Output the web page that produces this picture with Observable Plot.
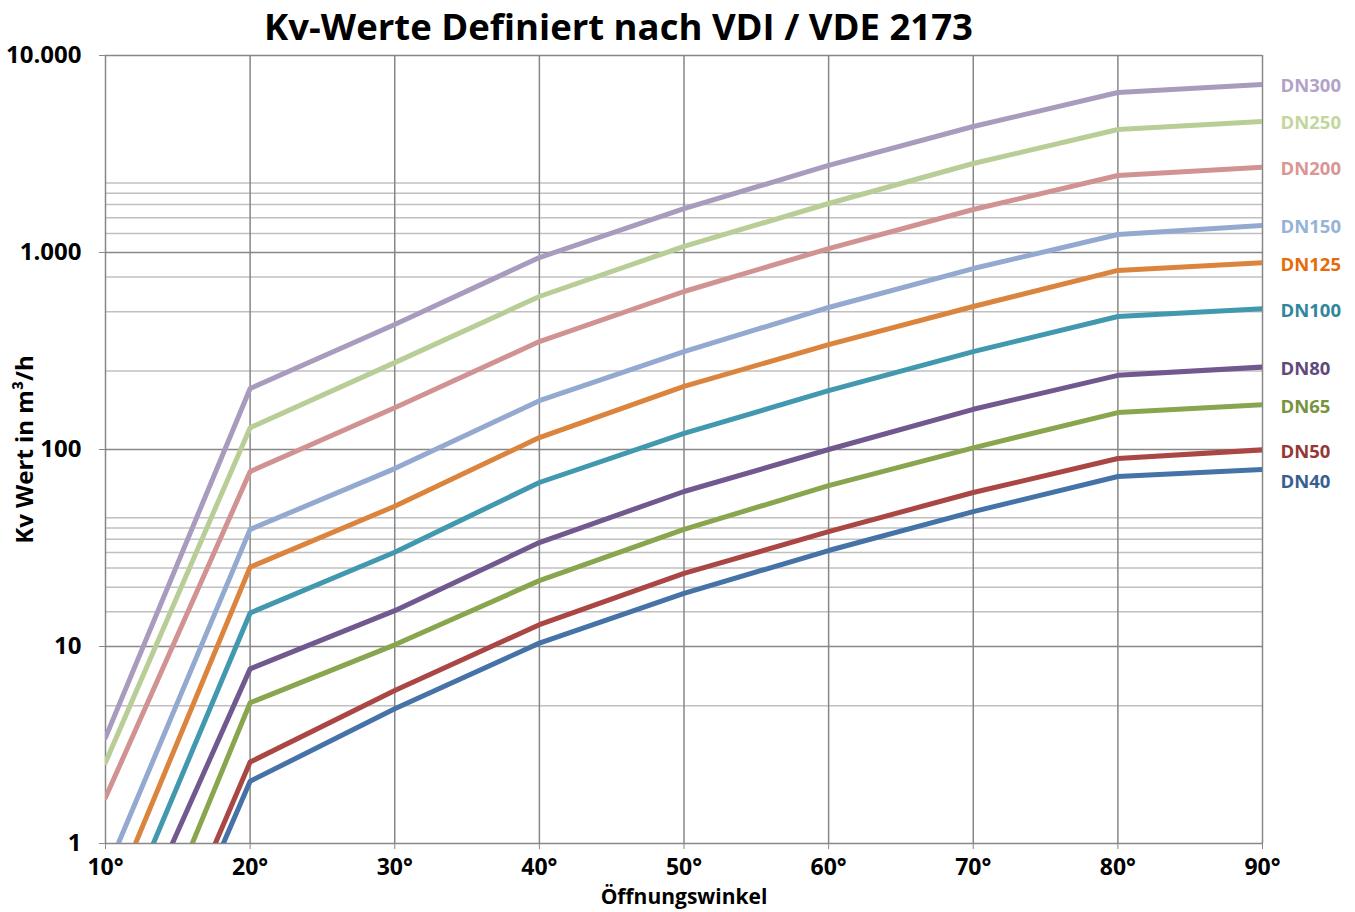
<!DOCTYPE html>
<html>
<head>
<meta charset="utf-8">
<script src="https://cdn.jsdelivr.net/npm/d3@7"></script>
<script src="https://cdn.jsdelivr.net/npm/@observablehq/plot@0.6"></script>
<style>
  html, body { margin: 0; padding: 0; background: #fff; }
  #wrap { position: relative; width: 1355px; height: 912px; overflow: hidden; }
  #title { position: absolute; left: 0; top: 0; width: 1237px; height: 45px; line-height: 52px;
           text-align: center; font-family: "Open Sans", sans-serif; font-weight: bold; font-size: 36.5px; color: #000; }
  #chart { position: absolute; left: 0; top: 45px; }
</style>
</head>
<body>
<div id="wrap">
  <div id="title">Kv-Werte Definiert nach VDI / VDE 2173</div>
  <div id="chart"></div>
</div>
<script>
// ---- Data ----
const angles = [10, 20, 30, 40, 50, 60, 70, 80, 90];
const seriesNames = ["DN40", "DN50", "DN65", "DN80", "DN100", "DN125", "DN150", "DN200", "DN250", "DN300"];
const dn40  = [0.041, 2.07, 4.83, 10.4, 18.6, 30.7, 48.4, 72.9, 79.1];
const dn50  = [0.05, 2.59, 5.98, 12.9, 23.5, 38.3, 60.5, 90, 99.6];
const dn65  = [0.085, 5.18, 10.2, 21.6, 39.3, 65.6, 102, 154, 169];
const dn80  = [0.173, 7.7, 15.2, 33.7, 61.2, 100, 160, 238, 262];
const dn100 = [0.264, 14.8, 30.1, 68, 120.6, 199, 314, 473, 518];
const dn125 = [0.43, 25.3, 51.5, 115, 209, 341, 532, 811, 887];
const dn150 = [0.70, 39.3, 80, 177, 314, 526, 829, 1234, 1371];
const dn200 = [1.71, 77.3, 163, 353, 634, 1047, 1653, 2460, 2712];
const dn250 = [2.58, 129, 276, 598, 1073, 1773, 2830, 4210, 4620];
const dn300 = [3.45, 204, 431, 943, 1672, 2766, 4361, 6490, 7128];
const seriesValues = [dn40, dn50, dn65, dn80, dn100, dn125, dn150, dn200, dn250, dn300];
const lineColors  = ["#4572A7", "#AA4643", "#89A54E", "#71588F", "#4198AF", "#DB843D", "#93A9CF", "#D19392", "#B9CD96", "#A99BBD"];
const labelColors = ["#376092", "#953735", "#77933C", "#604A7B", "#31859C", "#E46C0A", "#95B3D7", "#D99694", "#C3D69B", "#B3A2C7"];
const yMajorTicks = [1, 10, 100, 1000, 10000];
const yMinorTicks = [5, 15, 20, 25, 30, 35, 40, 45, 250, 500, 750, 1250, 1500, 1750, 2000, 2250];
const xTicks = [10, 20, 30, 40, 50, 60, 70, 80, 90];
const yTitle = "Kv Wert in m³/h";
const xTitle = "Öffnungswinkel";

// ---- Build ----
const de = d3.formatLocale({decimal: ",", thousands: ".", grouping: [3], currency: ["", " €"]});
const fmtY = de.format(",");
const font = "Open Sans";
const gridDark = "#878787";
const gridLight = "#c0c0c0";

const base = {
  width: 1355,
  height: 867,
  marginTop: 10,
  marginBottom: 69,
  marginLeft: 105,
  marginRight: 93,
  style: {fontFamily: font, background: "#fff", overflow: "visible"},
  x: {type: "linear", domain: [10, 90]},
  y: {type: "log", domain: [1, 10000]}
};

// label positions: keep labels apart using the library's own y scale
const yScale = Plot.plot({...base, marks: [Plot.ruleY([1])]}).scale("y");
const lastIdx = angles.length - 1;
const labelPx = seriesValues.map(v => yScale.apply(v[lastIdx]) + 2);
const minGap = 30;
const labelY = labelPx.slice();
// series are ordered bottom (DN40) to top (DN300); push lower labels downward if too close
for (let i = labelY.length - 2; i >= 0; i--) {
  if (labelY[i] - labelY[i + 1] < minGap) labelY[i] = labelY[i + 1] + minGap;
}

const marks = [
  Plot.ruleY(yMinorTicks, {stroke: gridLight, strokeWidth: 1.5}),
  Plot.ruleY(yMajorTicks, {stroke: gridDark, strokeWidth: 1.5}),
  Plot.ruleX(xTicks, {stroke: gridDark, strokeWidth: 1.5}),
  Plot.axisY({ticks: yMajorTicks, tickFormat: fmtY, tickSize: 6, tickPadding: 18, stroke: gridDark, fill: "#000",
              fontSize: 24, fontWeight: "bold", label: null}),
  Plot.axisX({ticks: xTicks, tickFormat: d => d + "°", tickSize: 6, tickPadding: 9, stroke: gridDark, fill: "#000",
              fontSize: 23, fontWeight: "bold", label: null}),
];

seriesNames.forEach((name, i) => {
  const rows = angles.map((a, j) => ({angle: a, kv: seriesValues[i][j]}));
  marks.push(Plot.line(rows, {x: "angle", y: "kv", stroke: lineColors[i], strokeWidth: 5, clip: true}));
});
seriesNames.forEach((name, i) => {
  const last = {angle: angles[lastIdx], kv: seriesValues[i][lastIdx], name};
  const dy = labelY[i] - yScale.apply(last.kv);
  marks.push(Plot.text([last], {x: "angle", y: "kv", text: "name", dx: 18, dy, textAnchor: "start",
    fill: labelColors[i], fontSize: 18.5, fontWeight: "bold"}));
});
marks.push(Plot.text([yTitle], {frameAnchor: "left", dx: -80, rotate: -90, text: d => d, fontSize: 24,
  fontWeight: "bold", fill: "#000", textAnchor: "middle"}));
marks.push(Plot.text([xTitle], {frameAnchor: "bottom", dy: 60, text: d => d, fontSize: 21,
  fontWeight: "bold", fill: "#000", textAnchor: "middle"}));

const chart = Plot.plot({...base, marks});
document.getElementById("chart").appendChild(chart);
</script>
</body>
</html>
